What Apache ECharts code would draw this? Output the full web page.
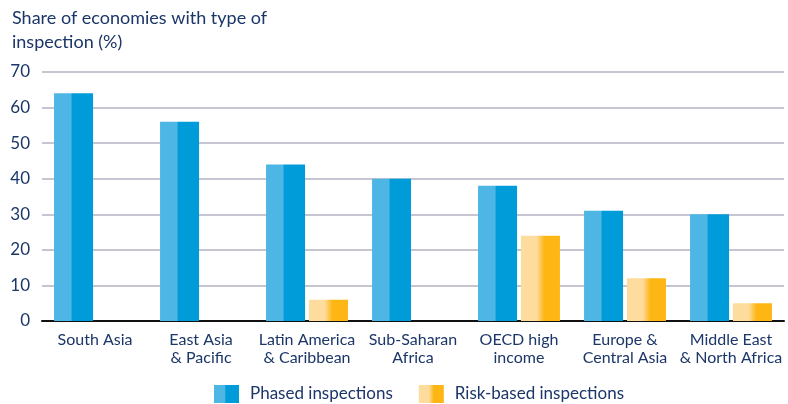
<!DOCTYPE html>
<html>
<head>
<meta charset="utf-8">
<script src="https://cdn.jsdelivr.net/npm/echarts@6/dist/echarts.min.js"></script>
<style>
  html, body { margin: 0; padding: 0; background: #ffffff; }
  #chart { width: 788px; height: 404px; }
</style>
</head>
<body>
<div id="chart"></div>
<script>
// Regions along the x axis
const regions = [
  'South Asia',
  'East Asia\n& Pacific',
  'Latin America\n& Caribbean',
  'Sub-Saharan\nAfrica',
  'OECD high\nincome',
  'Europe &\nCentral Asia',
  'Middle East\n& North Africa'
];

// Share of economies (%) using each inspection type
const phasedInspections = [64, 56, 44, 40, 38, 31, 30];
const riskBasedInspections = [null, null, 6, null, 24, 12, 5];

const yTicks = [0, 10, 20, 30, 40, 50, 60, 70];

const textColor = '#1b3668';
const fontFamily = 'Lato, "Noto Sans", sans-serif';

function splitGradient(light, dark, a, b) {
  return new echarts.graphic.LinearGradient(0, 0, 1, 0, [
    { offset: 0, color: light },
    { offset: a, color: light },
    { offset: b, color: dark },
    { offset: 1, color: dark }
  ]);
}

const chart = echarts.init(document.getElementById('chart'), null, { renderer: 'canvas' });

chart.setOption({
  animation: false,
  backgroundColor: '#ffffff',
  title: {
    text: 'Share of economies with type of\ninspection (%)',
    left: 12,
    top: 6,
    padding: 0,
    textStyle: {
      color: textColor,
      fontFamily: fontFamily,
      fontWeight: 'normal',
      fontSize: 18,
      lineHeight: 24
    }
  },
  legend: {
    bottom: 1,
    left: 214,
    padding: 0,
    icon: 'rect',
    itemWidth: 25,
    itemHeight: 18,
    itemGap: 26,
    textStyle: {
      color: textColor,
      fontFamily: fontFamily,
      fontSize: 17,
      padding: [0, 0, 0, 6]
    },
    data: ['Phased inspections', 'Risk-based inspections']
  },
  grid: {
    left: 42,
    right: 4,
    top: 72,
    bottom: 83,
    containLabel: false
  },
  xAxis: {
    type: 'category',
    data: regions,
    axisLine: { show: true, lineStyle: { color: '#111111', width: 2 } },
    axisTick: { show: false },
    axisLabel: {
      color: textColor,
      fontFamily: fontFamily,
      fontSize: 16,
      lineHeight: 18,
      margin: 10,
      interval: 0
    }
  },
  yAxis: {
    type: 'value',
    min: yTicks[0],
    max: yTicks[yTicks.length - 1],
    interval: 10,
    axisLine: { show: false },
    axisTick: { show: false },
    axisLabel: {
      color: textColor,
      fontFamily: fontFamily,
      fontSize: 17,
      margin: 12
    },
    splitLine: { lineStyle: { color: '#b4b2c2', width: 1.5 } }
  },
  series: [
    {
      name: 'Phased inspections',
      type: 'bar',
      data: phasedInspections,
      barWidth: 39,
      barGap: '10%',
      itemStyle: { color: splitGradient('#4db6e4', '#009cda', 0.43, 0.47) }
    },
    {
      name: 'Risk-based inspections',
      type: 'bar',
      data: riskBasedInspections,
      barWidth: 39,
      barGap: '10%',
      itemStyle: { color: splitGradient('#fedc9e', '#fdb614', 0.4, 0.6) }
    }
  ]
});
</script>
</body>
</html>
